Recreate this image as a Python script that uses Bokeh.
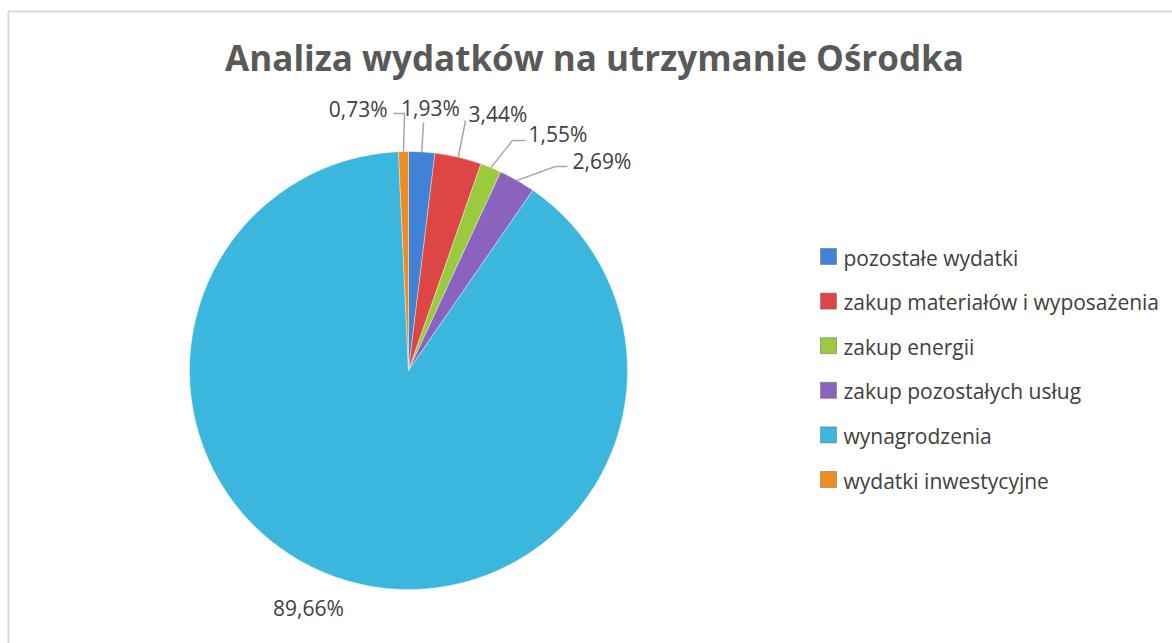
import math
from bokeh.plotting import figure
from bokeh.models import Range1d
from bokeh.core.properties import value
from bokeh.embed import file_html
from bokeh.resources import INLINE

# ---- data ----
categories = ["pozostałe wydatki", "zakup materiałów i wyposażenia", "zakup energii",
              "zakup pozostałych usług", "wynagrodzenia", "wydatki inwestycyjne"]
percent = [1.93, 3.44, 1.55, 2.69, 89.66, 0.73]
labels = ["1,93%", "3,44%", "1,55%", "2,69%", "89,66%", "0,73%"]
colors = ["#3f82d6", "#de4545", "#9acb3e", "#8c62bf", "#3bb6dc", "#ef8c20"]
title = "Analiza wydatków na utrzymanie Ośrodka"

W, H = 1172, 643
FONT = "Open Sans"
TXT = "#404040"

def X(px):  # image x -> data x
    return px

def Y(py):  # image y -> data y
    return H - py

p = figure(width=W, height=H, x_range=Range1d(0, W), y_range=Range1d(0, H),
           x_axis_type=None, y_axis_type=None, toolbar_location=None,
           output_backend="svg", min_border=0, outline_line_color=None)
p.grid.visible = False
p.background_fill_color = "white"
p.border_fill_color = "white"

# frame (top and left edges visible in the reference)
p.line([X(8), W], [Y(11), Y(11)], line_color="#d9d9d9", line_width=2)
p.line([X(8), X(8)], [0, Y(11)], line_color="#d9d9d9", line_width=2)

# title
p.text(x=[X(594)], y=[Y(57)], text=[title], text_font=value(FONT), text_font_style="bold",
       text_font_size="35px", text_color="#595959", text_align="center", text_baseline="middle")

# pie
cx, cy, r = X(408), Y(370), 219
total = sum(percent)
starts, ends, mids = [], [], []
c = 0.0
for v in percent:
    a0 = math.pi / 2 - 2 * math.pi * c / total
    c += v
    a1 = math.pi / 2 - 2 * math.pi * c / total
    starts.append(a0); ends.append(a1); mids.append((a0 + a1) / 2)

p.wedge(x=[cx] * len(percent), y=[cy] * len(percent), radius=r,
        start_angle=starts, end_angle=ends, direction="clock",
        fill_color=colors, line_color="white", line_width=0.6, line_alpha=0.6)

# labels with leader lines (layout: label pos in image px, align, elbow points)
layout = [
    (430, 107, "center", [(423, 122)]),
    (468, 113, "left", [(465, 120)]),
    (528, 133, "left", [(512, 140), (525, 140)]),
    (572, 160, "left", [(555, 166), (567, 166)]),
    (308, 607, "center", None),
    (387, 108, "right", [(404, 113), (393, 113)]),
]
for i, (lx, ly, al, elbow) in enumerate(layout):
    if elbow:
        ax = cx + r * math.cos(mids[i])
        ay = cy + r * math.sin(mids[i])
        xs = [ax] + [X(e[0]) for e in elbow]
        ys = [ay] + [Y(e[1]) for e in elbow]
        p.line(xs, ys, line_color="#a6a6a6", line_width=1.5)
    p.text(x=[X(lx)], y=[Y(ly)], text=[labels[i]], text_font=value(FONT),
           text_font_size="21px", text_color=TXT, text_align=al, text_baseline="middle")

# legend
for i, name in enumerate(categories):
    yy = 256 + i * 44.6
    p.scatter(x=[X(828)], y=[Y(yy)], marker="square", size=16, fill_color=colors[i],
              line_color="#666666", line_width=0.5)
    p.text(x=[X(843)], y=[Y(yy + 1)], text=[name], text_font=value(FONT),
           text_font_size="21px", text_color=TXT, text_align="left", text_baseline="middle")

open("out.html", "w").write(file_html(p, INLINE))
